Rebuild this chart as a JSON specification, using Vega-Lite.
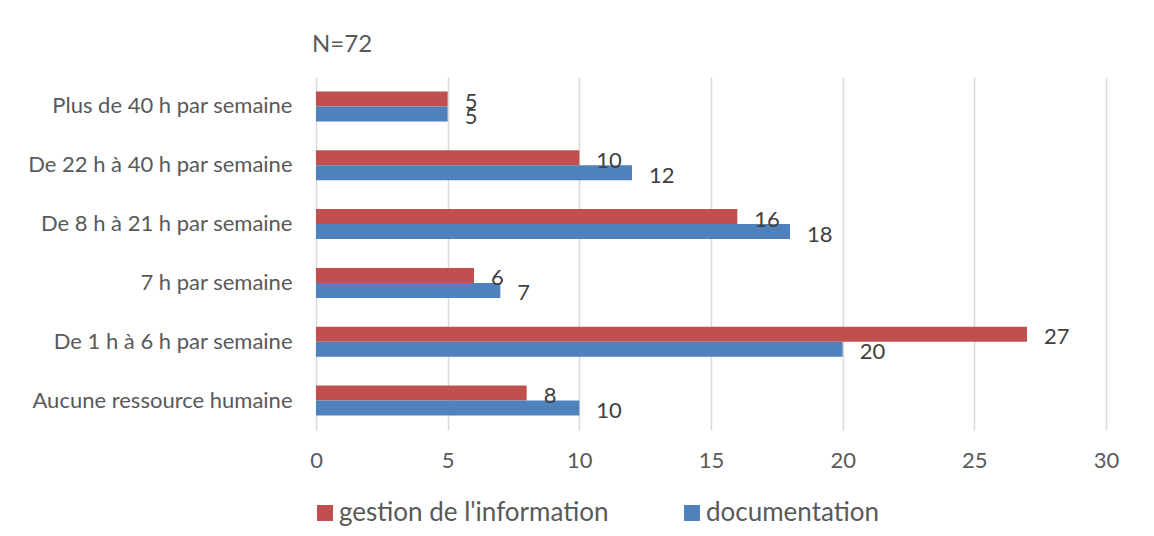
{
  "$schema": "https://vega.github.io/schema/vega-lite/v6.json",
  "width": 790,
  "height": 353,
  "autosize": {"type": "none"},
  "padding": {"left": 316, "top": 77, "right": 48, "bottom": 106},
  "background": "white",
  "config": {
    "font": "Lato",
    "view": {"stroke": null}
  },
  "title": {
    "text": "N=72",
    "anchor": "start",
    "frame": "group",
    "orient": "top",
    "fontSize": 24,
    "fontWeight": "normal",
    "color": "#595959",
    "offset": 20,
    "dx": -4
  },
  "data": {
    "values": [
      {"cat": "Plus de 40 h par semaine", "serie": "gestion de l'information", "v": 5},
      {"cat": "Plus de 40 h par semaine", "serie": "documentation", "v": 5},
      {"cat": "De 22 h à 40 h par semaine", "serie": "gestion de l'information", "v": 10},
      {"cat": "De 22 h à 40 h par semaine", "serie": "documentation", "v": 12},
      {"cat": "De 8 h à 21 h par semaine", "serie": "gestion de l'information", "v": 16},
      {"cat": "De 8 h à 21 h par semaine", "serie": "documentation", "v": 18},
      {"cat": "7 h par semaine", "serie": "gestion de l'information", "v": 6},
      {"cat": "7 h par semaine", "serie": "documentation", "v": 7},
      {"cat": "De 1 h à 6 h par semaine", "serie": "gestion de l'information", "v": 27},
      {"cat": "De 1 h à 6 h par semaine", "serie": "documentation", "v": 20},
      {"cat": "Aucune ressource humaine", "serie": "gestion de l'information", "v": 8},
      {"cat": "Aucune ressource humaine", "serie": "documentation", "v": 10}
    ]
  },
  "encoding": {
    "y": {
      "field": "cat",
      "type": "nominal",
      "sort": null,
      "scale": {"paddingInner": 0.49, "paddingOuter": 0.245},
      "axis": {
        "title": null,
        "domain": false,
        "ticks": false,
        "labelFontSize": 22,
        "labelColor": "#595959",
        "labelPadding": 24,
        "labelLimit": 400
      }
    },
    "yOffset": {
      "field": "serie",
      "type": "nominal",
      "sort": ["gestion de l'information", "documentation"]
    },
    "x": {
      "field": "v",
      "type": "quantitative",
      "scale": {"domain": [0, 30], "nice": false},
      "axis": {
        "title": null,
        "values": [0, 5, 10, 15, 20, 25, 30],
        "domain": false,
        "ticks": false,
        "grid": true,
        "gridColor": "#D9D9D9",
        "gridWidth": 1.5,
        "labelFontSize": 22,
        "labelColor": "#595959",
        "labelPadding": 20,
        "labelFlush": false
      }
    }
  },
  "layer": [
    {
      "mark": {"type": "bar"},
      "encoding": {
        "color": {
          "field": "serie",
          "type": "nominal",
          "sort": ["gestion de l'information", "documentation"],
          "scale": {"domain": ["gestion de l'information", "documentation"], "range": ["#C0504D", "#4F81BD"]},
          "legend": {
            "title": null,
            "orient": "none",
            "direction": "horizontal",
            "legendX": -4,
            "legendY": 423,
            "symbolType": "square",
            "symbolSize": 256,
            "symbolStrokeWidth": 0,
            "symbolOpacity": 1,
            "labelFontSize": 26,
            "labelColor": "#595959",
            "labelOffset": 1,
            "columnPadding": 70,
            "labelLimit": 400
          }
        }
      }
    },
    {
      "mark": {"type": "text", "align": "left", "baseline": "middle", "dx": 17, "dy": 3, "fontSize": 22, "color": "#404040"},
      "encoding": {
        "text": {"field": "v", "type": "quantitative"}
      }
    }
  ]
}
